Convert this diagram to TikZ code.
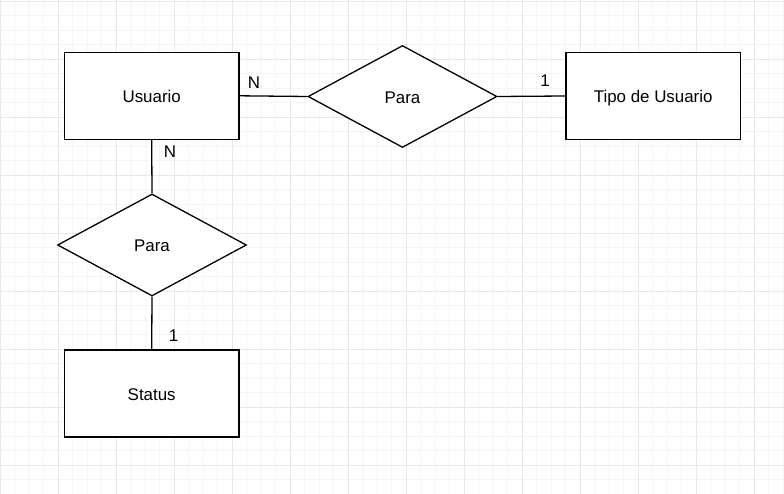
\documentclass[tikz,border=0pt]{standalone}
\usepackage{fontspec}
\setmainfont{Liberation Sans}
\usetikzlibrary{shapes.geometric}
\definecolor{gridminor}{HTML}{F5F5F5}
\definecolor{gridmajor}{HTML}{E8E8E8}
\tikzset{
  entity/.style={draw=black, line width=1.3pt, fill=white, rectangle, minimum width=174.5pt, minimum height=87pt, inner sep=0pt, text height=17pt, text depth=3.2pt, font=\fontsize{16.9}{20}\selectfont},
  relation/.style={draw=black, line width=1.3pt, fill=white, diamond, minimum width=189pt, minimum height=102pt, inner sep=0pt, text height=17pt, text depth=3.2pt, font=\fontsize{16.9}{20}\selectfont},
  link/.style={draw=black, line width=1.3pt},
  card/.style={inner sep=0pt, font=\fontsize{16.9}{20}\selectfont},
}
\begin{document}
\begin{tikzpicture}[x=1pt, y=-1pt]
\useasboundingbox (0,0) rectangle (784,494);
\fill[white] (0,0) rectangle (784,494);
% grid
\foreach \k in {0,...,54} {
  \pgfmathsetmacro{\gx}{0.3+14.5*\k}
  \draw[gridminor, line width=1pt] (\gx,0) -- (\gx,494);
}
\foreach \k in {0,...,34} {
  \pgfmathsetmacro{\gy}{1.3+14.5*\k}
  \draw[gridminor, line width=1pt] (0,\gy) -- (784,\gy);
}
\foreach \k in {0,...,13} {
  \pgfmathsetmacro{\gx}{0.3+58*\k}
  \draw[gridmajor, line width=1pt] (\gx,0) -- (\gx,494);
}
\foreach \k in {0,...,8} {
  \pgfmathsetmacro{\gy}{1.3+58*\k}
  \draw[gridmajor, line width=1pt] (0,\gy) -- (784,\gy);
}
% nodes
\node[entity] (usuario) at (151.7,95.8) {Usuario};
\node[entity] (tipo) at (653.2,96) {Tipo de Usuario};
\node[relation] (para1) at (402.5,96.5) {Para};
\node[relation] (para2) at (152,245) {Para};
\node[entity] (status) at (151.7,393.4) {Status};
% connectors
\draw[link] (usuario.east) -- (para1.west);
\draw[link] (para1.east) -- (tipo.west);
\draw[link] (usuario.south) -- (para2.north);
\draw[link] (para2.south) -- (status.north);
% cardinalities
\node[card] (c1) at (254,83) {N};
\node[card] (c2) at (545,81) {1};
\node[card] (c3) at (170,151.5) {N};
\node[card] (c4) at (173.5,336) {1};
\end{tikzpicture}
\end{document}
